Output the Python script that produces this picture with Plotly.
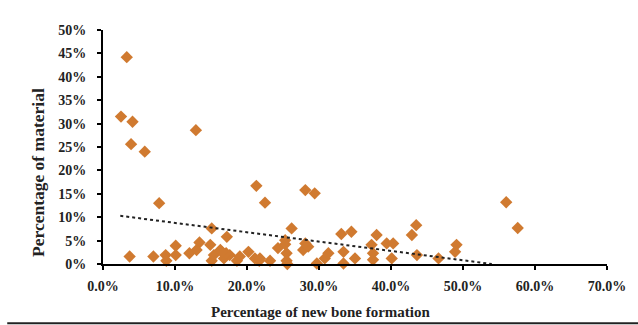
import plotly.graph_objects as go

# New bone formation (%) and material (%)
bone_pct = [
    3.3, 2.5, 4.1, 3.9, 5.8, 12.9, 7.8, 21.3, 22.5, 28.1, 29.4, 56.0, 57.6,
    3.7, 7.0, 8.7, 8.8, 10.1, 10.1, 12.0, 13.4, 13.0, 14.9, 15.1, 15.1,
    16.3, 17.2, 16.8, 17.6, 18.6, 20.2, 21.1, 21.7, 23.2, 24.3, 25.3, 25.5,
    25.5, 26.2, 27.8, 28.5, 29.7, 15.4, 17.1, 19.0, 25.3, 25.6, 28.1, 30.8,
    31.3, 33.1, 34.5, 33.4, 33.4, 35.0, 37.3, 38.0, 37.5, 37.5, 39.4, 40.3,
    40.1, 42.9, 43.5, 43.6, 46.6, 49.1, 48.9, 16.5, 21.8,
]
material_pct = [
    44.2, 31.5, 30.4, 25.6, 24.0, 28.6, 13.0, 16.7, 13.1, 15.8, 15.1, 13.2, 7.7,
    1.6, 1.6, 1.9, 0.7, 3.9, 1.9, 2.3, 4.6, 3.0, 4.1, 7.6, 0.7,
    3.0, 5.8, 1.2, 1.9, 0.7, 2.6, 1.2, 0.7, 0.7, 3.4, 5.1, 2.3,
    0.7, 7.6, 3.0, 3.7, 0.1, 1.9, 2.3, 1.6, 4.2, 0.0, 4.4, 1.2,
    2.3, 6.4, 6.9, 2.6, 0.1, 1.2, 4.1, 6.2, 2.3, 0.9, 4.4, 4.4,
    1.2, 6.2, 8.3, 1.9, 1.2, 4.1, 2.6, 2.6, 1.2,
]

# Linear trendline end points as drawn (clipped at 0%)
trend_x = [2.4, 54.0]
trend_y = [10.3, 0.0]

x_tickvals = [0, 10, 20, 30, 40, 50, 60, 70]
x_ticktext = ["0.0%", "10.0%", "20.0%", "30.0%", "40.0%", "50.0%", "60.0%", "70.0%"]
y_tickvals = [0, 5, 10, 15, 20, 25, 30, 35, 40, 45, 50]
y_ticktext = ["0%", "5%", "10%", "15%", "20%", "25%", "30%", "35%", "40%", "45%", "50%"]

x_title = "Percentage of new bone formation"
y_title = "Percentage of material"

FONT = "Liberation Serif"

fig = go.Figure()
fig.add_trace(go.Scatter(
    x=bone_pct, y=material_pct, mode="markers",
    marker=dict(symbol="diamond", size=9.5, color="#D07A30", line=dict(width=0)),
    cliponaxis=False, showlegend=False,
))
fig.add_trace(go.Scatter(
    x=trend_x, y=trend_y, mode="lines",
    line=dict(color="#222222", width=2, dash="dot"),
    showlegend=False,
))

axis_common = dict(
    showline=True, linecolor="black", linewidth=2,
    ticks="outside", ticklen=4, tickwidth=2, tickcolor="black",
    showgrid=False, zeroline=False,
    tickfont=dict(family=FONT, size=14, color="#222222", weight="bold"),
)

fig.update_layout(
    width=638, height=325,
    margin=dict(l=103, r=31, t=30, b=61),
    paper_bgcolor="white", plot_bgcolor="white",
    xaxis=dict(range=[0, 70], tickvals=x_tickvals, ticktext=x_ticktext,
               ticklabelstandoff=4, **axis_common),
    yaxis=dict(range=[0, 50], tickvals=y_tickvals, ticktext=y_ticktext,
               ticklabelstandoff=8, **axis_common),
    annotations=[
        dict(text=x_title, xref="paper", yref="paper", x=0.4325, y=-0.205,
             showarrow=False, xanchor="center", yanchor="middle",
             font=dict(family=FONT, size=15, color="#222222", weight="bold")),
        dict(text=y_title, xref="paper", yref="paper", x=-0.129, y=0.393,
             showarrow=False, xanchor="center", yanchor="middle", textangle=-90,
             font=dict(family=FONT, size=17.5, color="#222222", weight="bold")),
    ],
    shapes=[
        dict(type="line", xref="paper", yref="paper", x0=-0.19, x1=1.07,
             y0=-0.253, y1=-0.253, line=dict(color="#222222", width=2)),
    ],
)

fig.write_html("out.html", config={"displayModeBar": False},
               post_script="document.body.style.margin='0';")
